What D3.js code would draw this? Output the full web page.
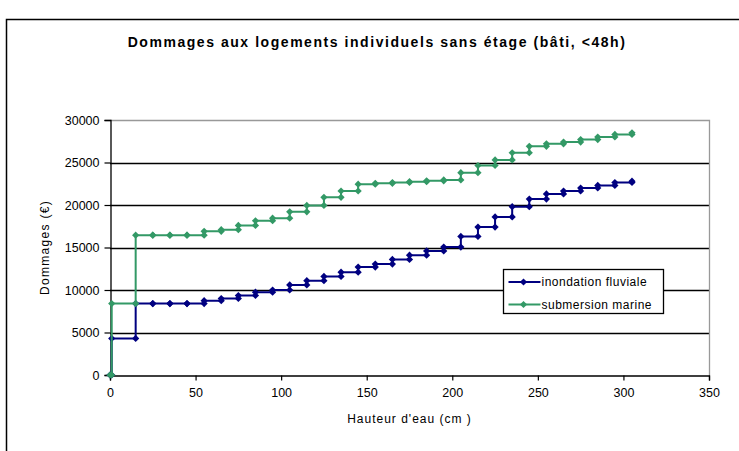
<!DOCTYPE html>
<html>
<head>
<meta charset="utf-8">
<script src="https://cdn.jsdelivr.net/npm/d3@7"></script>
<style>
  html, body { margin: 0; padding: 0; background: #fff; }
  svg { display: block; }
  text { font-family: "Liberation Sans", Arial, sans-serif; fill: #000; }
</style>
</head>
<body>
<svg id="chart" width="739" height="451"></svg>
<script>
// Water height levels (cm) where the damage curve steps
const heights = [0, 1, 15, 25, 35, 45, 55, 65, 75, 85, 95, 105, 115, 125, 135, 145, 155,
                 165, 175, 185, 195, 205, 215, 225, 235, 245, 255, 265, 275, 285, 295, 305];
// Damage (€) reached at each level
const fluviale = [0, 4300, 8400, 8400, 8400, 8400, 8750, 9000, 9350, 9750, 10000, 10600,
                  11100, 11600, 12100, 12700, 13050, 13600, 14100, 14600, 15050, 16300,
                  17400, 18600, 19800, 20700, 21300, 21650, 22000, 22300, 22650, 22800];
const marine = [0, 8400, 16450, 16450, 16450, 16450, 16900, 17100, 17600, 18150, 18450,
                19200, 19950, 20900, 21650, 22450, 22550, 22650, 22750, 22850, 22950, 23800,
                24650, 25300, 26150, 26900, 27200, 27400, 27700, 28000, 28300, 28500];
const seriesNames = ["inondation fluviale", "submersion marine"];
const xTicks = [0, 50, 100, 150, 200, 250, 300, 350];
const yTicks = [0, 5000, 10000, 15000, 20000, 25000, 30000];

const colors = ["#000080", "#339966"];
const svg = d3.select("#chart");

// Outer chart frame
svg.append("rect")
  .attr("x", 6.5).attr("y", 19.5).attr("width", 760).attr("height", 460)
  .attr("fill", "#fff").attr("stroke", "#000").attr("stroke-width", 1.5);

svg.append("text")
  .attr("x", 377).attr("y", 47)
  .attr("text-anchor", "middle")
  .style("font-size", "14px").style("font-weight", "bold")
  .style("letter-spacing", "1.55px")
  .text("Dommages aux logements individuels sans étage (bâti, <48h)");

const plot = { left: 110, right: 709, top: 120, bottom: 375 };
const x = d3.scaleLinear().domain([0, 350]).range([plot.left, plot.right]);
const y = d3.scaleLinear().domain([0, 30000]).range([plot.bottom, plot.top]);

// Horizontal gridlines
svg.append("g").selectAll("line")
  .data(yTicks.filter(v => v > 0 && v < 30000))
  .join("line")
  .attr("x1", plot.left).attr("x2", plot.right)
  .attr("y1", d => Math.round(y(d)) + 0.5).attr("y2", d => Math.round(y(d)) + 0.5)
  .attr("stroke", "#000").attr("stroke-width", 1.3);

// Plot-area border on top and right
svg.append("path")
  .attr("d", `M${plot.left},${plot.top + 0.5}H${plot.right + 0.5}V${plot.bottom}`)
  .attr("fill", "none").attr("stroke", "#999").attr("stroke-width", 1.3);

// Axes
const xAxis = d3.axisBottom(x).tickValues(xTicks).tickSize(5).tickPadding(8)
  .tickFormat(d3.format("d"));
const yAxis = d3.axisLeft(y).tickValues(yTicks).tickSize(6).tickPadding(5)
  .tickFormat(d3.format("d"));

const gx = svg.append("g").attr("transform", `translate(0,${plot.bottom + 0.5})`).call(xAxis);
const gy = svg.append("g").attr("transform", `translate(${plot.left + 0.5},0)`).call(yAxis);
[gx, gy].forEach(g => {
  g.select(".domain").attr("stroke", "#000").attr("stroke-width", 1.3);
  g.selectAll(".tick line").attr("stroke", "#000").attr("stroke-width", 1.2);
  g.selectAll("text").style("font-family", "Liberation Sans, Arial, sans-serif")
    .style("font-size", "12.5px").attr("fill", "#000");
});

// Axis titles
svg.append("text")
  .attr("x", x(175)).attr("y", 423)
  .attr("text-anchor", "middle").style("font-size", "12px")
  .style("letter-spacing", "1px")
  .text("Hauteur d'eau (cm )");
svg.append("text")
  .attr("transform", `translate(49,${(plot.top + plot.bottom) / 2}) rotate(-90)`)
  .attr("text-anchor", "middle").style("font-size", "12px")
  .style("letter-spacing", "1.3px")
  .text("Dommages (€)");

// Step lines with diamond markers at each corner
const diamond = "M0,-3.6L3.6,0L0,3.6L-3.6,0Z";
const line = d3.line().x(d => x(d[0])).y(d => y(d[1])).curve(d3.curveStepAfter);

[fluviale, marine].forEach((vals, si) => {
  const pts = heights.map((h, i) => [h, vals[i]]);
  const corners = [pts[0]];
  for (let i = 1; i < pts.length; i++) {
    corners.push([pts[i][0], pts[i - 1][1]]);
    corners.push(pts[i]);
  }
  const g = svg.append("g");
  g.append("path").datum(pts)
    .attr("d", line).attr("fill", "none")
    .attr("stroke", colors[si]).attr("stroke-width", 2);
  g.selectAll("path.m").data(corners).join("path")
    .attr("class", "m")
    .attr("d", diamond)
    .attr("transform", d => `translate(${x(d[0])},${y(d[1])})`)
    .attr("fill", colors[si]);
});

// Legend
const lg = svg.append("g").attr("transform", "translate(503.5,269.5)");
lg.append("rect").attr("width", 160).attr("height", 44)
  .attr("fill", "#fff").attr("stroke", "#000").attr("stroke-width", 1.3);
seriesNames.forEach((name, i) => {
  const ly = 12.5 + i * 22.5;
  lg.append("line").attr("x1", 5).attr("x2", 37).attr("y1", ly).attr("y2", ly)
    .attr("stroke", colors[i]).attr("stroke-width", 2);
  lg.append("path").attr("d", diamond)
    .attr("transform", `translate(20,${ly})`).attr("fill", colors[i]);
  lg.append("text").attr("x", 38).attr("y", ly + 4)
    .style("font-size", "12px").style("letter-spacing", "0.5px")
    .text(name);
});
</script>
</body>
</html>
